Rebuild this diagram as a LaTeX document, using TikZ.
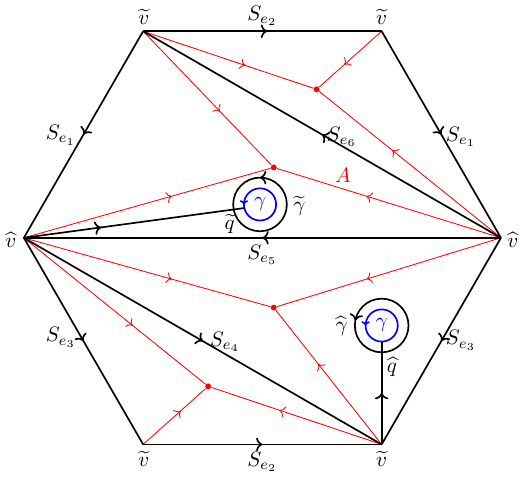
\documentclass[tikz,border=0pt]{standalone}
\usepackage{amsmath}
\usepackage{xcolor}
\usepackage{tikz}
\usetikzlibrary{arrows.meta, decorations.markings, calc}

\begin{document}
\begin{tikzpicture}[
    edge/.style={thick,>={To[length=3pt,width=6.4pt]}},
    redge/.style={red,>={To[length=2.6pt,width=5.2pt]}},
    loopb/.style={thick,blue,>={To[length=2pt,width=4pt]}},
    arrmark/.style={postaction={decorate},
                    decoration={markings,mark=at position #1 with {\arrow{>}}}},
    dot/.style={circle,fill=red,inner sep=0pt,minimum size=2.8pt},
    lab/.style={inner sep=1pt}
  ]
    \useasboundingbox (-4.40,-4.012) rectangle (4.42,3.988);

    % hexagon corners
    \coordinate (tl) at (-2,3.464);
    \coordinate (tr) at (2,3.464);
    \coordinate (l)  at (-4,0);
    \coordinate (r)  at (4,0);
    \coordinate (bl) at (-2,-3.464);
    \coordinate (br) at (2,-3.464);

    % red vertices
    \node[dot] (a1) at (0.91,2.49) {};
    \node[dot] (a2) at (0.19,1.18) {};
    \node[dot] (a3) at (0.19,-1.17) {};
    \node[dot] (a4) at (-0.91,-2.49) {};

    % loops
    \coordinate (c1) at (-0.04,0.56);
    \coordinate (c2) at (2.0,-1.47);
    \coordinate (q1) at ($(c1)+(193:0.27)$);
    \coordinate (q2) at ($(c2)+(270:0.27)$);

    % red lines
    \draw[redge,arrmark=0.6] (tl) -- (a1);
    \draw[redge,arrmark=0.6] (tr) -- (a1);
    \draw[redge,arrmark=0.6] (r) -- (a1);
    \draw[redge,arrmark=0.6] (tl) -- (a2);
    \draw[redge,arrmark=0.6] (l) -- (a2);
    \draw[redge,arrmark=0.6] (r) -- (a2);
    \draw[redge,arrmark=0.6] (l) -- (a3);
    \draw[redge,arrmark=0.6] (r) -- (a3);
    \draw[redge,arrmark=0.6] (br) -- (a3);
    \draw[redge,arrmark=0.6] (l) -- (a4);
    \draw[redge,arrmark=0.6] (bl) -- (a4);
    \draw[redge,arrmark=0.6] (br) -- (a4);

    % black edges
    \draw[edge,arrmark=0.52] (tl) -- (tr);
    \draw[edge,arrmark=0.5] (bl) -- (br);
    \draw[edge,arrmark=0.5] (tl) -- (l);
    \draw[edge,arrmark=0.5] (tr) -- (r);
    \draw[edge,arrmark=0.5] (l) -- (bl);
    \draw[edge,arrmark=0.5] (r) -- (br);
    \draw[edge,arrmark=0.5] (r) -- (tl);
    \draw[edge,arrmark=0.5] (l) -- (br);
    \draw[edge,arrmark=0.5] (r) -- (l);

    \draw[edge,arrmark=0.25] (c1) circle[radius=0.45];
    \draw[loopb,arrmark=0.5] (c1) circle[radius=0.27];
    \draw[edge,arrmark=0.47] (c2) circle[radius=0.45];
    \draw[loopb,arrmark=0.5] (c2) circle[radius=0.27];
    \draw[edge,arrmark=0.35] (l) -- (q1);
    \draw[edge,arrmark=0.5] (br) -- (q2);

    % labels
    \node[lab] (vtl) at (-1.99,3.70) {$\widetilde{v}$};
    \node[lab] (vtr) at (2.0,3.70) {$\widetilde{v}$};
    \node[lab] (vbl) at (-1.99,-3.70) {$\widetilde{v}$};
    \node[lab] (vbr) at (2.0,-3.70) {$\widetilde{v}$};
    \node[lab] (vl) at (-4.22,-0.03) {$\widehat{v}$};
    \node[lab] (vr) at (4.2,-0.03) {$\widehat{v}$};

    \node[lab] (s2t) at (0,3.72) {$S_{e_2}$};
    \node[lab] (s2b) at (0,-3.75) {$S_{e_2}$};
    \node[lab] (s1l) at (-3.38,1.72) {$S_{e_1}$};
    \node[lab] (s1r) at (3.33,1.69) {$S_{e_1}$};
    \node[lab] (s3l) at (-3.38,-1.67) {$S_{e_3}$};
    \node[lab] (s3r) at (3.33,-1.72) {$S_{e_3}$};
    \node[lab] (s6) at (1.33,1.69) {$S_{e_6}$};
    \node[lab] (s4) at (-0.63,-1.75) {$S_{e_4}$};
    \node[lab] (s5) at (0,-0.29) {$S_{e_5}$};

    \node[lab,text=red] (la) at (1.35,1.05) {$A$};
    \node[lab,text=blue] (g1) at (c1) {$\gamma$};
    \node[lab,text=blue] (g2) at (c2) {$\gamma$};
    \node[lab] (gt) at (0.62,0.53) {$\widetilde{\gamma}$};
    \node[lab] (qt) at (-0.55,0.23) {$\widetilde{q}$};
    \node[lab] (gh) at (1.33,-1.47) {$\widehat{\gamma}$};
    \node[lab] (qh) at (2.17,-2.17) {$\widehat{q}$};
  \end{tikzpicture}
\end{document}
